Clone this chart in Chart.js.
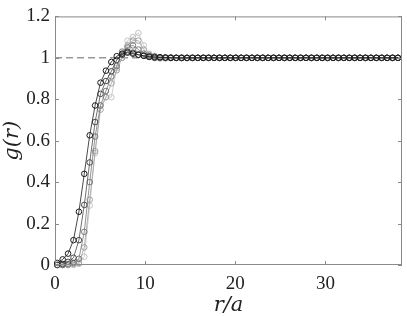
<!DOCTYPE html>
<html>
<head>
<meta charset="utf-8">
<script src="https://cdn.jsdelivr.net/npm/chart.js@4.4.1/dist/chart.umd.min.js"></script>
<style>
  html, body { margin: 0; padding: 0; background: #fff; }
  #wrap { width: 407px; height: 316px; }
</style>
</head>
<body>
<div id="wrap"><canvas id="gr-chart" width="407" height="316"></canvas></div>
<script>
// r/a sample positions (shared by every curve)
const rOverA = [
  0.25, 0.85, 1.45, 2.05, 2.65, 3.25, 3.85, 4.45, 5.05, 5.65,
  6.25, 6.85, 7.45, 8.05, 8.65, 9.25, 9.85, 10.45, 11.05, 11.65,
  12.25, 12.85, 13.45, 14.05, 14.65, 15.25, 15.85, 16.45, 17.05, 17.65,
  18.25, 18.85, 19.45, 20.05, 20.65, 21.25, 21.85, 22.45, 23.05, 23.65,
  24.25, 24.85, 25.45, 26.05, 26.65, 27.25, 27.85, 28.45, 29.05, 29.65,
  30.25, 30.85, 31.45, 32.05, 32.65, 33.25, 33.85, 34.45, 35.05, 35.65,
  36.25, 36.85, 37.45, 38.05,
];

// g(r), darkest curve first
const gDark = [
  0.01, 0.027, 0.055, 0.12, 0.257, 0.44, 0.626, 0.77, 0.88, 0.938,
  0.98, 1.008, 1.02, 1.025, 1.02, 1.015, 1.01, 1.005, 1.005,
  1.003, 1.002, 1.0, 1.0, 0.999, 1.0, 1.0, 1.0, 1.0, 1.0,
  1.0, 1.0, 1.0, 1.0, 1.0, 1.0, 1.0, 1.0, 1.0, 1.0,
  1.0, 1.0, 1.0, 1.0, 1.0, 1.0, 1.0, 1.0, 1.0, 1.0,
  1.0, 1.0, 1.0, 1.0, 1.0, 1.0, 1.0, 1.0, 1.0, 1.0,
  1.0, 1.0, 1.0, 1.0, 1.0,
];
const gMidDark = [
  0.0, 0.005, 0.015, 0.035, 0.12, 0.29, 0.495, 0.69, 0.826, 0.888,
  0.935, 0.99, 1.015, 1.03, 1.025, 1.015, 1.01, 1.005, 1.0,
  1.002, 1.0, 1.0, 1.0, 1.0, 0.999, 1.0, 1.0, 1.0, 1.0,
  1.0, 1.0, 1.0, 1.0, 1.0, 1.0, 1.0, 1.0, 1.0, 1.0,
  1.0, 1.0, 1.0, 1.0, 1.0, 1.0, 1.0, 1.0, 1.0, 1.0,
  1.0, 1.0, 1.0, 1.0, 1.0, 1.0, 1.0, 1.0, 1.0, 1.0,
  1.0, 1.0, 1.0, 1.0, 1.0,
];
const gMid = [
  0.0, 0.0, 0.005, 0.01, 0.03, 0.16, 0.40, 0.62, 0.77, 0.84,
  0.91, 0.96, 1.03, 1.05, 1.06, 1.04, 1.02, 1.01, 1.0,
  0.998, 1.0, 1.002, 1.0, 1.0, 1.0, 1.0, 1.0, 1.0, 1.0,
  1.0, 1.0, 1.0, 1.0, 1.0, 1.0, 1.0, 1.0, 1.0, 1.0,
  1.0, 1.0, 1.0, 1.0, 1.0, 1.0, 1.0, 1.0, 1.0, 1.0,
  1.0, 1.0, 1.0, 1.0, 1.0, 1.0, 1.0, 1.0, 1.0, 1.0,
  1.0, 1.0, 1.0, 1.0, 1.0,
];
const gMidLight = [
  0.0, 0.0, 0.0, 0.005, 0.01, 0.085, 0.315, 0.55, 0.75, 0.81,
  0.877, 0.94, 1.0, 1.06, 1.083, 1.083, 1.04, 1.015, 1.005,
  1.0, 0.998, 1.0, 1.0, 1.002, 1.0, 1.0, 1.0, 1.0, 1.0,
  1.0, 1.0, 1.0, 1.0, 1.0, 1.0, 1.0, 1.0, 1.0, 1.0,
  1.0, 1.0, 1.0, 1.0, 1.0, 1.0, 1.0, 1.0, 1.0, 1.0,
  1.0, 1.0, 1.0, 1.0, 1.0, 1.0, 1.0, 1.0, 1.0, 1.0,
  1.0, 1.0, 1.0, 1.0, 1.0,
];
const gLight = [
  0.0, 0.0, 0.0, 0.0, 0.005, 0.04, 0.287, 0.54, 0.77, 0.81,
  0.81, 0.95, 1.0, 1.083, 1.10, 1.12, 1.06, 1.02, 1.01,
  1.0, 1.0, 0.998, 1.0, 1.0, 1.0, 1.0, 1.0, 1.0, 1.0,
  1.0, 1.0, 1.0, 1.0, 1.0, 1.0, 1.0, 1.0, 1.0, 1.0,
  1.0, 1.0, 1.0, 1.0, 1.0, 1.0, 1.0, 1.0, 1.0, 1.0,
  1.0, 1.0, 1.0, 1.0, 1.0, 1.0, 1.0, 1.0, 1.0, 1.0,
  1.0, 1.0, 1.0, 1.0, 1.0,
];

const curves = [gDark, gMidDark, gMid, gMidLight, gLight];
const curveColors = ['#1a1a1a', '#4a4a4a', '#777777', '#a0a0a0', '#c4c4c4'];

const xRange = [0, 38.5];
const yRange = [0, 1.2];
const refLevel = 1;

const axisColor = '#8a8a8a';
const textColor = '#222';
const tickFont = { family: 'Liberation Serif, Times New Roman, serif', size: 19 };
const titleFont = { family: 'DejaVu Serif, serif', size: 21, style: 'italic', lineHeight: 1 };

// box round the plot plus matlab-style inward ticks on all four sides
const frameTicks = {
  id: 'frameTicks',
  afterDraw(chart) {
    const { ctx, chartArea: a, scales } = chart;
    const len = 4;
    ctx.save();
    ctx.strokeStyle = axisColor;
    ctx.lineWidth = 1;
    ctx.strokeRect(a.left + 0.5, a.top + 0.5, a.right - a.left - 1, a.bottom - a.top - 1);
    ctx.beginPath();
    scales.x.ticks.forEach((t) => {
      const px = Math.round(scales.x.getPixelForValue(t.value)) + 0.5;
      ctx.moveTo(px, a.bottom);
      ctx.lineTo(px, a.bottom - len);
      ctx.moveTo(px, a.top);
      ctx.lineTo(px, a.top + len);
    });
    scales.y.ticks.forEach((t) => {
      const py = Math.round(scales.y.getPixelForValue(t.value)) + 0.5;
      ctx.moveTo(a.left, py);
      ctx.lineTo(a.left + len, py);
      ctx.moveTo(a.right, py);
      ctx.lineTo(a.right - len, py);
    });
    ctx.stroke();
    ctx.restore();
  },
};

const datasets = curves.map((g, i) => ({
  data: rOverA.map((r, k) => ({ x: r, y: g[k] })),
  borderColor: curveColors[i],
  borderWidth: 0.8,
  pointRadius: 2.8,
  pointBorderWidth: 1,
  pointBorderColor: curveColors[i],
  pointBackgroundColor: 'rgba(255,255,255,0)',
  tension: 0,
  clip: false,
}));

datasets.push({
  data: [{ x: xRange[0], y: refLevel }, { x: xRange[1], y: refLevel }],
  borderColor: '#666',
  borderWidth: 1,
  borderDash: [7, 4],
  pointRadius: 0,
  order: 10,
});

new Chart(document.getElementById('gr-chart'), {
  type: 'line',
  data: { datasets },
  options: {
    responsive: false,
    animation: false,
    layout: { padding: { top: 8, right: 3, left: 0, bottom: 0 } },
    plugins: { legend: { display: false }, tooltip: { enabled: false } },
    scales: {
      x: {
        type: 'linear',
        min: xRange[0],
        max: xRange[1],
        grid: { display: false, drawTicks: false },
        border: { display: false },
        ticks: { stepSize: 10, includeBounds: false, color: textColor, font: tickFont, padding: 8, maxRotation: 0 },
        title: { display: true, text: 'r/a', color: textColor, font: titleFont, padding: { top: 0, bottom: 0 } },
        afterFit: (scale) => { scale.height = 51; },
      },
      y: {
        min: yRange[0],
        max: yRange[1],
        grid: { display: false, drawTicks: false },
        border: { display: false },
        ticks: {
          stepSize: 0.2,
          color: textColor,
          font: tickFont,
          padding: 5,
          callback: (v) => String(+v.toFixed(1)),
        },
        title: { display: true, text: 'g(r)', color: textColor, font: titleFont, padding: { top: 2, bottom: 0 } },
        afterFit: (scale) => { scale.width = 55; },
      },
    },
  },
  plugins: [frameTicks],
});
</script>
</body>
</html>
